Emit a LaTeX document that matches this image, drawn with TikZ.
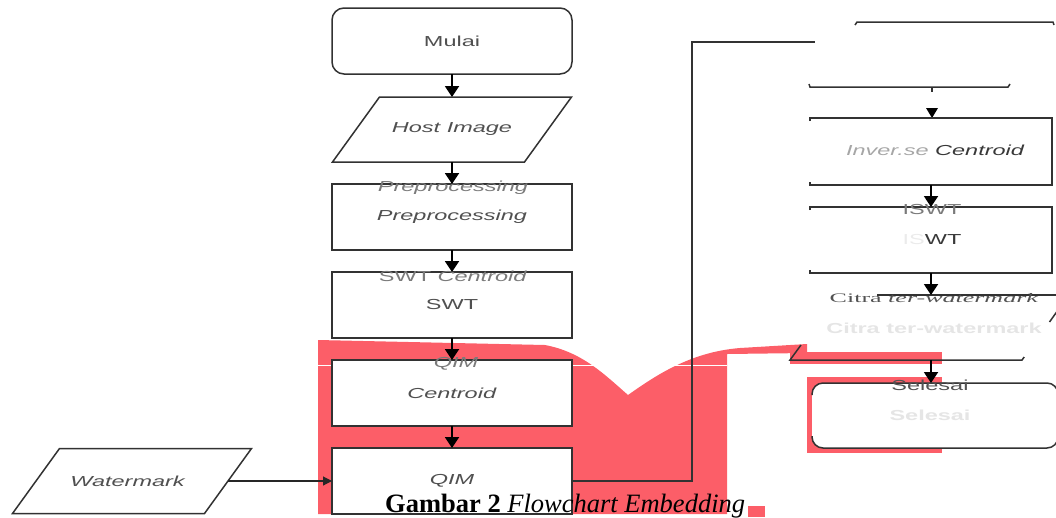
\documentclass[tikz,border=0pt]{standalone}
\usepackage{fontspec}
\usetikzlibrary{arrows.meta,calc}
\newfontfamily\sansx[FakeStretch=1.62]{Liberation Sans}
\newfontfamily\serifx[FakeStretch=2.0]{Liberation Serif}
\newfontfamily\capfont{Liberation Serif}
\definecolor{redx}{RGB}{252,94,104}
\definecolor{edge}{RGB}{50,50,50}
\definecolor{txt}{RGB}{80,80,80}
\begin{document}
\begin{tikzpicture}[x=1pt,y=-1pt,
  box/.style={draw=edge,line width=1.5pt,fill=white,minimum width=240pt,minimum height=66pt,inner sep=0pt,outer sep=0pt},
  rbox/.style={box,rounded corners=12pt},
  pnode/.style={minimum width=239pt,minimum height=65pt,inner sep=0pt,outer sep=0pt},
  lbl/.style={font=\sansx\fontsize{14.5}{17}\selectfont,text=txt},
  ghost/.style={font=\sansx\fontsize{14.5}{17}\selectfont,text=black!52,inner sep=0pt},
  faint/.style={text=black!10,inner sep=0pt},
  outline/.style={draw=edge,line width=1.5pt},
  flow/.style={draw=black,line width=1.9pt,-{Triangle[width=14pt,length=11pt]}},
  thinflow/.style={draw=black!85,line width=1.1pt,-{Triangle[width=9pt,length=9pt]}},
  conn/.style={draw=edge,line width=1.4pt},
]
\useasboundingbox (0,0) rectangle (1056,517);
\clip (0,0) rectangle (1056,517);
% red background shapes
\fill[redx] (318,514) -- (318,340) -- (545,345)
  .. controls (582,352) and (604,374) .. (628,395)
  .. controls (655,376) and (690,352) .. (740,348)
  -- (807,344) -- (807,353) -- (727,354) -- (727,514) -- cycle;
\fill[redx] (790,352) rectangle (942,364);
\fill[redx] (807,377) rectangle (942,453);
\fill[redx] (748,506) rectangle (765,517);
\draw[white,line width=1.2pt] (300,365.5) -- (727,365.5);

% left column
\node[rbox,lbl] (mulai) at (452,41) {Mulai};
\node[pnode] (host) at (452,129.5) {};
\draw[outline,fill=white] ($(host.north west)+(47,0)$) -- (host.north east)
  -- ($(host.south east)+(-47,0)$) -- (host.south west) -- cycle;
\node[lbl] at (host) {\textit{Host Image}};
\node[box,lbl] (pre) at (452,217) {\textit{Preprocessing}};
\node[box,lbl] (swt) at (452,305) {SWT};
\node[box,lbl] (cen) at (452,393) {\textit{Centroid}};
\node[box,lbl] (qim) at (452,481) {\textit{QIM}};
\node[pnode] (wm) at (132,481) {};
\draw[outline,fill=white] ($(wm.north west)+(47,0)$) -- (wm.north east)
  -- ($(wm.south east)+(-47,0)$) -- (wm.south west) -- cycle;
\node[lbl] at (128,481) {\textit{Watermark}};

% ghost labels
\node[ghost] (g1) at (453,188) {\textit{Preprocessing}};
\node[ghost] (g2) at (453,276) {SWT \textit{Centroid}};
\node[ghost] (g3) at (456,364) {\textit{QIM}};

% left arrows
\draw[flow] (mulai.south) -- (host.north);
\draw[flow] (host.south) -- (pre.north);
\draw[flow] (pre.south) -- (swt.north);
\draw[flow] (swt.south) -- (cen.north);
\draw[flow] (cen.south) -- (qim.north);
\draw[thinflow] ($(wm.east)+(-23.5,0)$) -- (qim.west);

% connector to right column
\coordinate (bend) at (692,42);
\coordinate (topend) at (815,42);
\draw[conn] (qim.east) -| (bend) -- (topend);

% right column
\node[pnode,minimum width=245pt] (rtop) at (932.5,54.5) {};
\draw[outline] ($(rtop.north west)+(45,3)$) -- ($(rtop.north west)+(47,0)$) -- ($(rtop.north east)+(-2,0)$) -- ++(1,3);
\draw[outline] ($(rtop.south west)+(-1,-3)$) -- (rtop.south west) -- ($(rtop.south east)+(-47,0)$) -- ++(2,-3);
\draw[outline] (rtop.south -| 932,0) -- ++(0,5);
\fill[black] (926,108) -- (938,108) -- (932,118) -- cycle;

\node[pnode,minimum width=242pt,minimum height=67pt] (inv) at (931,151.5) {};
\draw[outline] ($(inv.north west)+(0,3)$) -- (inv.north west) -- (inv.north east)
  -- (inv.south east) -- (inv.south west) -- ++(0,-3);
\node[lbl] at (935,150) {\textit{\color{black!35}Inver.se} \textit{\color{black!78}Centroid}};

\node[pnode,minimum width=242pt,minimum height=66pt] (iswt) at (931,240) {};
\draw[outline] ($(iswt.north west)+(0,3)$) -- (iswt.north west) -- (iswt.north east)
  -- (iswt.south east) -- (iswt.south west) -- ++(0,-3);
\node[ghost] at (932,210) {ISWT};
\node[lbl] at (932,240) {{\color{black!8}IS}\color{black!78}WT};

\node[pnode,minimum width=279pt,minimum height=65pt] (citra) at (929.5,327.5) {};
\draw[outline] ($(citra.north west)+(87,0)$) -- (citra.north east);
\draw[outline] ($(citra.south west)+(11,-15)$) -- (citra.south west) -- ($(citra.south east)+(-47,0)$) -- ++(2.2,-3);
\draw[outline] (1049.5,322) -- (1058,310);
\node[font=\serifx\fontsize{13}{15}\selectfont,text=black!68,inner sep=0pt] at (934,298) {Citra \textit{ter-watermark}};
\node[font=\sansx\fontsize{14.5}{17}\selectfont,faint] at (934,328) {\textbf{Citra ter-watermark}};

\node[pnode,minimum width=246pt,minimum height=65pt] (sel) at (935,415.5) {};
\draw[outline,fill=white,rounded corners=11pt] ($(sel.north west)+(0,12)$) |- (sel.north east) -- (sel.south east) -| ($(sel.south west)+(0,-12)$);
\node[ghost,text=black!68] at (930,385) {Selesai};
\node[font=\sansx\fontsize{14.5}{17}\selectfont,faint] at (930,415) {\textbf{Selesai}};

% right arrows
\draw[flow] (iswt.south |- inv.south) -- (iswt.south |- iswt.north);
\draw[flow] (iswt.south) -- (iswt.south |- citra.north);
\draw[flow] (iswt.south |- citra.south) -- (iswt.south |- sel.north);

% caption
\node[anchor=base west,inner sep=0pt,font=\capfont\fontsize{26.5}{30}\selectfont] (cap) at (385,512) {\textbf{Gambar 2} \textit{Flowchart Embedding}};
\end{tikzpicture}
\end{document}
